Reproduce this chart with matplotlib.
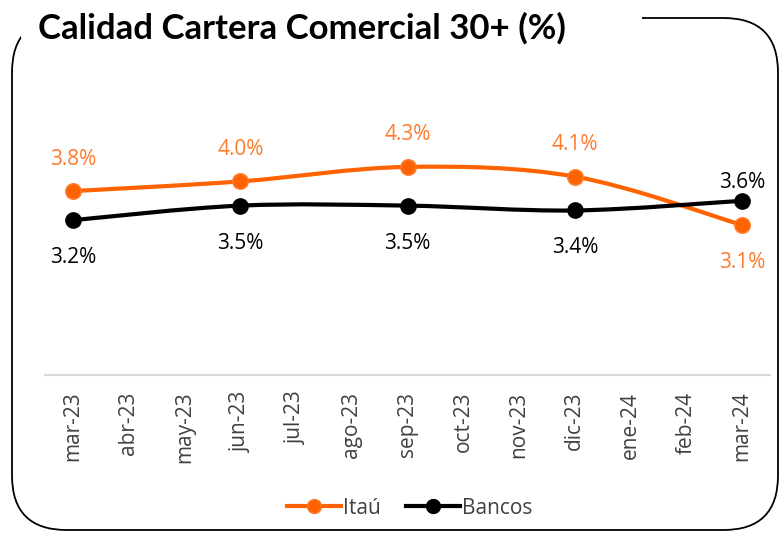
import matplotlib
matplotlib.use("Agg")
import matplotlib.pyplot as plt
import matplotlib.patches as patches
from matplotlib.path import Path
from matplotlib.lines import Line2D

months = ["mar-23", "abr-23", "may-23", "jun-23", "jul-23", "ago-23", "sep-23",
          "oct-23", "nov-23", "dic-23", "ene-24", "feb-24", "mar-24"]
quarter_idx = [0, 3, 6, 9, 12]
itau = [3.8, 4.0, 4.3, 4.1, 3.1]
bancos = [3.2, 3.5, 3.5, 3.4, 3.6]

ORANGE = "#FF6200"
LABEL_ORANGE = "#FF7A2A"
FONT = "Open Sans"


def smooth_path(xs, ys):
    # catmull-rom style bezier through the points
    pts = list(zip(xs, ys))
    verts = [pts[0]]
    codes = [Path.MOVETO]
    n = len(pts)
    for i in range(n - 1):
        p0 = pts[i - 1] if i > 0 else pts[i]
        p1 = pts[i]
        p2 = pts[i + 1]
        p3 = pts[i + 2] if i + 2 < n else pts[i + 1]
        c1 = (p1[0] + (p2[0] - p0[0]) / 6, p1[1] + (p2[1] - p0[1]) / 6)
        c2 = (p2[0] - (p3[0] - p1[0]) / 6, p2[1] - (p3[1] - p1[1]) / 6)
        verts += [c1, c2, p2]
        codes += [Path.CURVE4] * 3
    return Path(verts, codes)


fig = plt.figure(figsize=(7.79, 5.35), dpi=100)
W, H = 779, 535

# frame
frame = patches.FancyBboxPatch((12 / W, 5 / H), 766 / W, 512 / H,
                               boxstyle="round,pad=0,rounding_size=0.07",
                               transform=fig.transFigure, facecolor="none",
                               edgecolor="black", linewidth=1.3,
                               mutation_aspect=W / H)
fig.patches.append(frame)
gap = patches.Rectangle((21 / W, 497 / H), 621 / W, 38 / H,
                        transform=fig.transFigure, facecolor="white",
                        edgecolor="none", zorder=2)
fig.patches.append(gap)

fig.text(38 / W, 1 - 28 / H, "Calidad Cartera Comercial 30+ (%)",
         fontsize=25, fontweight="bold", family="Lato",
         va="center", ha="left", zorder=3)

ax = fig.add_axes([45 / W, 1 - 375 / H, 725 / W, 271 / H])
ax.set_xlim(-0.5, len(months) - 0.5)
ax.set_ylim(0, 5.6)

for vals, color in [(itau, ORANGE), (bancos, "black")]:
    ax.add_patch(patches.PathPatch(smooth_path(quarter_idx, vals), facecolor="none",
                                   edgecolor=color, linewidth=3, zorder=2,
                                   capstyle="round"))
ax.plot(quarter_idx, itau, "o", color=ORANGE, markersize=11,
        markeredgecolor=LABEL_ORANGE, markeredgewidth=1.2, zorder=3)
ax.plot(quarter_idx, bancos, "o", color="black", markersize=11, zorder=3)

for x, a, b in zip(quarter_idx, itau, bancos):
    up_a = a >= b
    ax.annotate(f"{a:.1f}%", (x, a), xytext=(0, 23 if up_a else -27),
                textcoords="offset points", ha="center", va="center",
                color=LABEL_ORANGE, fontsize=15, family=FONT)
    ax.annotate(f"{b:.1f}%", (x, b), xytext=(0, -27 if up_a else 13),
                textcoords="offset points", ha="center", va="center",
                color="black", fontsize=15, family=FONT)

ax.set_xticks(range(len(months)))
ax.set_xticklabels(months, rotation=90, fontsize=15, color="#404040", family=FONT)
ax.tick_params(axis="x", length=0, pad=12)
ax.set_yticks([])
for s in ["top", "right", "left"]:
    ax.spines[s].set_visible(False)
ax.spines["bottom"].set_color("#D9D9D9")
ax.spines["bottom"].set_linewidth(1.5)

handles = [
    Line2D([], [], color=ORANGE, lw=3, marker="o", markersize=10,
           markeredgecolor=LABEL_ORANGE, label="Itaú"),
    Line2D([], [], color="black", lw=3, marker="o", markersize=10, label="Bancos"),
]
fig.legend(handles=handles, loc="center", bbox_to_anchor=(410 / W, 1 - 508 / H),
           ncol=2, frameon=False, handlelength=2.6, handletextpad=0.1,
           columnspacing=1.2, prop={"family": FONT, "size": 15},
           labelcolor="#404040")

fig.savefig("out.png", dpi=100)
